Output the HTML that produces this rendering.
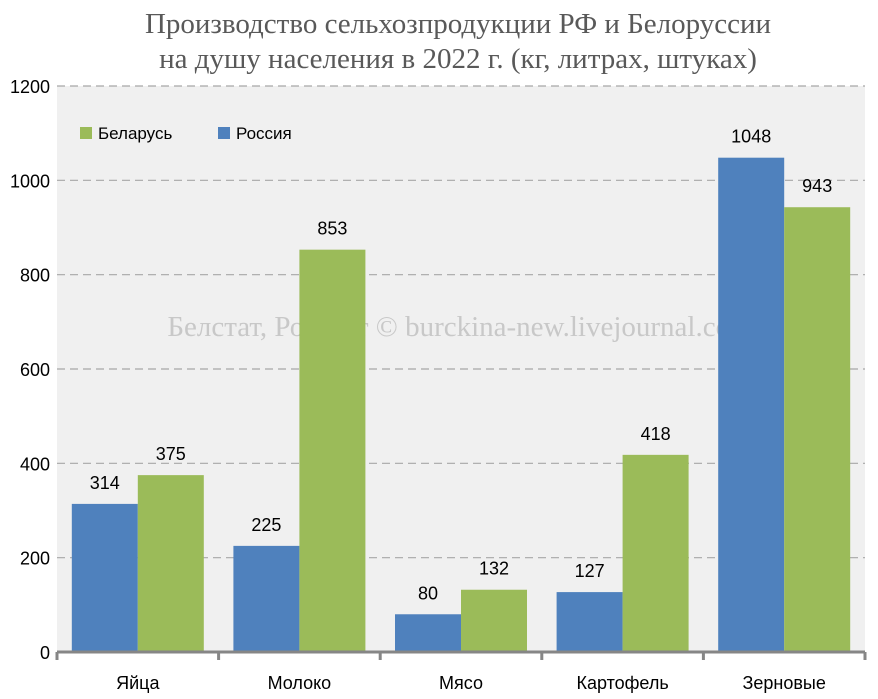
<!DOCTYPE html>
<html><head><meta charset="utf-8"><style>
body{margin:0;background:#fff;}
svg{display:block;font-family:"Liberation Sans","DejaVu Sans",sans-serif;}
</style></head><body>
<svg width="878" height="699">
<text x="458" y="33" text-anchor="middle" font-family="Liberation Serif, DejaVu Serif, serif" font-size="29" fill="#595959">Производство сельхозпродукции РФ и Белоруссии</text>
<text x="458" y="68" text-anchor="middle" font-family="Liberation Serif, DejaVu Serif, serif" font-size="29" fill="#595959">на душу населения в 2022 г. (кг, литрах, штуках)</text>
<rect x="57" y="86" width="808" height="566" fill="#f0f0f0"/>
<g id="grid"></g>
<text x="460" y="336" text-anchor="middle" font-family="Liberation Serif, DejaVu Serif, serif" font-size="29" fill="#c8c8c8">Белстат, Росстат © burckina-new.livejournal.com</text>
<g id="bars"></g>
<g id="axis"></g>
<g>
<rect x="80" y="127" width="12" height="12" fill="#9bbb59"/>
<text x="98" y="139" font-size="17" fill="#000">Беларусь</text>
<rect x="218" y="127" width="12" height="12" fill="#4f81bd"/>
<text x="236" y="139" font-size="17" fill="#000">Россия</text>
</g>
</svg>
<script>
const categories=["Яйца","Молоко","Мясо","Картофель","Зерновые"];
const russia=[314,225,80,127,1048];
const belarus=[375,853,132,418,943];
const yTicks=[0,200,400,600,800,1000,1200];
const NS="http://www.w3.org/2000/svg";
const x0=57,x1=865,y0=652,y1=86,yMax=1200;
const y=v=>y0-(v/yMax)*(y0-y1);
const band=(x1-x0)/categories.length;
function mk(t,a,p){const e=document.createElementNS(NS,t);for(const k in a)e.setAttribute(k,a[k]);p.appendChild(e);return e;}
const grid=document.getElementById('grid'),bars=document.getElementById('bars'),axis=document.getElementById('axis');
yTicks.forEach(t=>{
  if(t>0){const l=mk('line',{x1:x0,x2:x1,y1:y(t),y2:y(t),stroke:'#a6a6a6','stroke-width':1.2,'stroke-dasharray':'8,5'},grid);
  
  }
  const tx=mk('text',{x:50,y:y(t)+7,'text-anchor':'end','font-size':18,fill:'#000'},axis);
  tx.textContent=t;
  
  
});
const bw=66;
categories.forEach((c,i)=>{
  const cx=x0+band*i+band/2;
  [[russia[i],'#4f81bd',cx-bw,'russia'],[belarus[i],'#9bbb59',cx,'belarus']].forEach(([v,col,bx,s])=>{
    const r=mk('rect',{x:bx,y:y(v),width:bw,height:y0-y(v),fill:col},bars);
    
    
    const t=mk('text',{x:bx+bw/2,y:y(v)-15,'text-anchor':'middle','font-size':18,fill:'#000'},bars);
    t.textContent=v;
    
    
  });
  const lt=mk('text',{x:cx,y:689,'text-anchor':'middle','font-size':18,fill:'#000'},axis);
  lt.textContent=c;
  
  
});
const al=mk('line',{x1:x0,x2:x1,y1:y0,y2:y0,stroke:'#868686','stroke-width':3},axis);


for(let i=0;i<=categories.length;i++){
  const tk=mk('line',{x1:x0+band*i,x2:x0+band*i,y1:y0,y2:y0+8,stroke:'#868686','stroke-width':3},axis);
  
  
}
</script>
</body></html>
